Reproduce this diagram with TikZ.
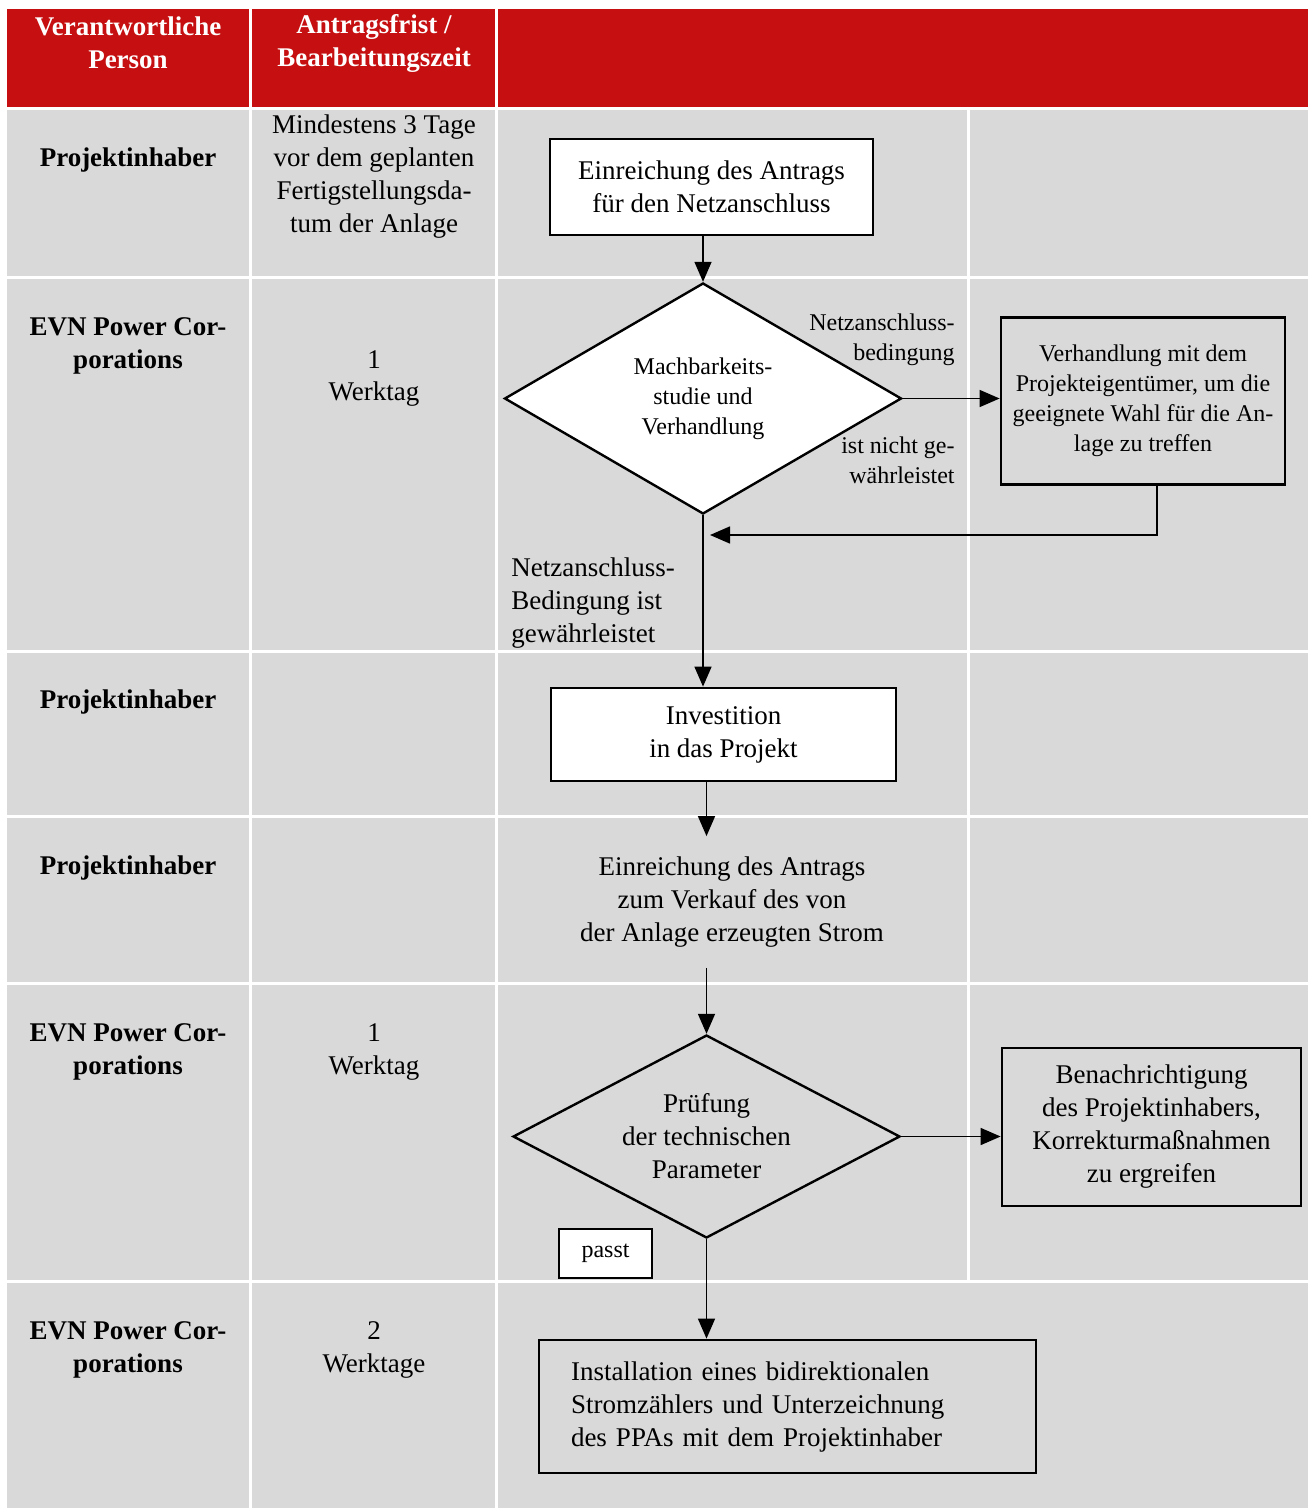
\documentclass[tikz,border=0pt]{standalone}
\usepackage{fontspec}
\setmainfont{Liberation Serif}
\usetikzlibrary{shapes.geometric,arrows.meta}
\definecolor{kopfrot}{RGB}{197,15,16}
\definecolor{zellgrau}{RGB}{217,217,217}
\newcommand{\grosstext}{\fontsize{13.5}{16.5}\selectfont}
\newcommand{\kleintext}{\fontsize{12}{15}\selectfont}
\tikzset{
  kopf/.style={text=white, font=\grosstext\bfseries, align=center, inner sep=0pt},
  person/.style={font=\grosstext\bfseries, align=center, inner sep=0pt},
  frist/.style={font=\grosstext, align=center, inner sep=0pt},
  schritt/.style={draw, line width=1.4pt, fill=white, inner sep=0pt, align=center, font=\grosstext},
  entscheid/.style={draw, diamond, line width=1.2pt, inner sep=0pt, align=center, font=\grosstext},
  marke/.style={font=\kleintext, inner sep=0pt},
  pfeil/.style={-{Triangle[length=10pt,width=8.5pt]}, line width=0.75pt}
}
\begin{document}
\begin{tikzpicture}[x=0.5pt,y=-0.5pt]
  \useasboundingbox (0,0) rectangle (1308,1508);
  % Tabellenkopf
  \fill[kopfrot] (7,9) rectangle (249,107);
  \fill[kopfrot] (252,9) rectangle (495,107);
  \fill[kopfrot] (498,9) rectangle (1308,107);
  % Zeilen
  \foreach \ya/\yb in {110/276,279/650,653/815,818/982,985/1280} {
    \fill[zellgrau] (7,\ya) rectangle (249,\yb);
    \fill[zellgrau] (252,\ya) rectangle (495,\yb);
    \fill[zellgrau] (498,\ya) rectangle (967,\yb);
    \fill[zellgrau] (970,\ya) rectangle (1308,\yb);
  }
  \fill[zellgrau] (7,1283) rectangle (249,1508);
  \fill[zellgrau] (252,1283) rectangle (495,1508);
  \fill[zellgrau] (498,1283) rectangle (1308,1508);

  \node[kopf] (h1) at (128,43) {Verantwortliche\\Person};
  \node[kopf] (h2) at (374,43) {Antragsfrist /\\Bearbeitungszeit};

  % Verantwortliche Person
  \node[person] (p1) at (128,160) {Projektinhaber};
  \node[person] (p2) at (128,345.5) {EVN Power Cor-\\porations};
  \node[person] (p3) at (128,702) {Projektinhaber};
  \node[person] (p4) at (128,868) {Projektinhaber};
  \node[person] (p5) at (128,1051.5) {EVN Power Cor-\\porations};
  \node[person] (p6) at (128,1349.5) {EVN Power Cor-\\porations};

  % Fristen
  \node[frist] (f1) at (374,177) {Mindestens 3 Tage\\vor dem geplanten\\Fertigstellungsda-\\tum der Anlage};
  \node[frist] (f2) at (374,378.5) {1\\Werktag};
  \node[frist] (f5) at (374,1051.5) {1\\Werktag};
  \node[frist] (f6) at (374,1349.5) {2\\Werktage};

  % Ablauf
  \node[schritt, minimum width=161.5pt, minimum height=48pt] (antrag) at (711.5,187) {Einreichung des Antrags\\für den Netzanschluss};
  \node[entscheid, fill=white, font=\kleintext, aspect=1.72, minimum width=198.5pt, minimum height=115.5pt] (machbar) at (703,398.5) {Machbarkeits-\\studie und\\Verhandlung};
  \node[schritt, fill=zellgrau, font=\kleintext, minimum width=142pt, minimum height=83.5pt] (verhandlung) at (1143,401) {Verhandlung mit dem\\Projekteigentümer, um die\\geeignete Wahl für die An-\\lage zu treffen};
  \node[marke, anchor=east, align=right] (bedingung) at (955,340) {Netzanschluss-\\bedingung};
  \node[marke, anchor=east, align=right] (nicht) at (955,460) {ist nicht ge-\\währleistet};
  \node[frist, anchor=west, align=left] (gewaehr) at (511,603) {Netzanschluss-\\Bedingung ist\\gewährleistet};
  \node[schritt, minimum width=172.5pt, minimum height=46.5pt] (invest) at (723.5,734.5) {Investition\\in das Projekt};
  \node[frist, minimum height=65.5pt] (verkauf) at (732,902) {Einreichung des Antrags\\zum Verkauf des von\\der Anlage erzeugten Strom};
  \node[entscheid, fill=zellgrau, aspect=1.9, minimum width=193.5pt, minimum height=101.5pt] (pruefung) at (706.5,1136.5) {Prüfung\\der technischen\\Parameter};
  \node[schritt, fill=zellgrau, minimum width=149.5pt, minimum height=79pt] (benach) at (1151.5,1127) {Benachrichtigung\\des Projektinhabers,\\Korrekturmaßnahmen\\zu ergreifen};
  \node[draw, fill=white, line width=0.6pt, font=\kleintext, minimum width=46.5pt, minimum height=24.5pt] (passt) at (605.5,1253.5) {passt};
  \node[schritt, fill=zellgrau, align=left, text width=216.5pt, inner xsep=16pt, minimum height=66.5pt] (install) at (787.5,1406.5) {Installation eines bidirektionalen\\Stromzählers und Unterzeichnung\\des PPAs mit dem Projektinhaber};

  % Verbindungen
  \coordinate (rueck) at (710,535);
  \draw[pfeil] (antrag.south -| machbar.north) -- (machbar.north);
  \draw[pfeil] (machbar.east) -- (machbar.east -| verhandlung.west);
  \draw[pfeil] ([xshift=7pt]verhandlung.south) |- (rueck);
  \draw[pfeil] (machbar.south) -- (machbar.south |- invest.north);
  \draw[pfeil] (invest.south -| pruefung.north) -- (verkauf.north -| pruefung.north);
  \draw[pfeil] (verkauf.south -| pruefung.north) -- (pruefung.north);
  \draw[pfeil] (pruefung.east) -- (pruefung.east -| benach.west);
  \draw[pfeil] (pruefung.south) -- (pruefung.south |- install.north);
\end{tikzpicture}
\end{document}
